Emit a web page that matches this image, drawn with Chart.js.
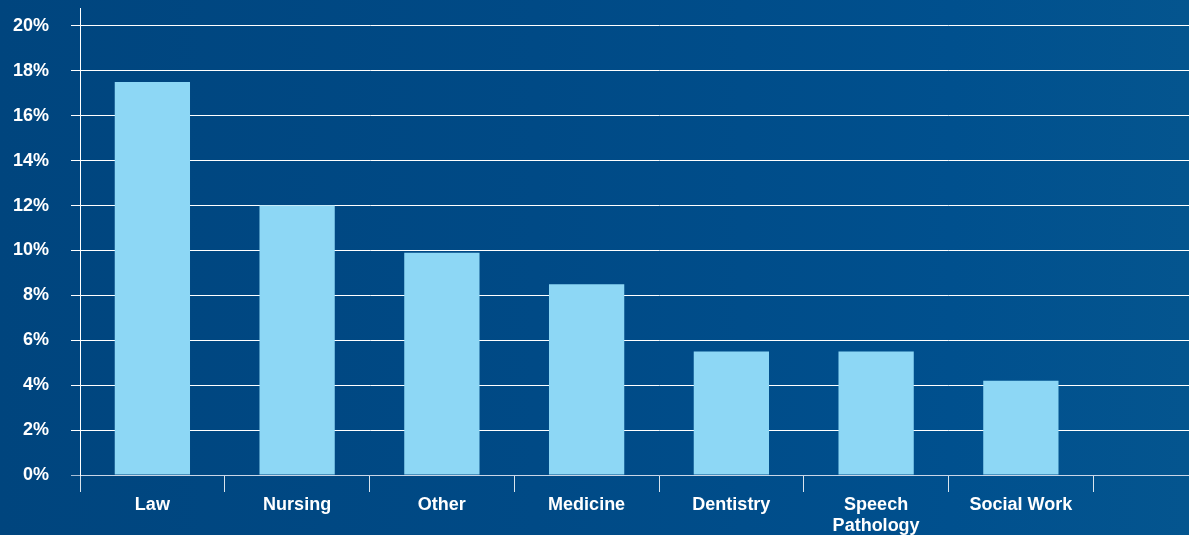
<!DOCTYPE html>
<html>
<head>
<meta charset="utf-8">
<script src="https://cdn.jsdelivr.net/npm/chart.js@4/dist/chart.umd.min.js"></script>
<style>
  html, body { margin: 0; padding: 0; overflow: hidden; width: 1189px; height: 535px; }
  body { background: linear-gradient(90deg, #00457e 0%, #004a86 45%, #00508e 80%, #04558f 100%); }
  canvas { display: block; }
</style>
</head>
<body>
<canvas id="chart" width="1238" height="535"></canvas>
<script>
// Share by field, in percent
const categories = ['Law', 'Nursing', 'Other', 'Medicine', 'Dentistry', ['Speech', 'Pathology'], 'Social Work', ''];
const shares = [17.5, 12, 9.9, 8.5, 5.5, 5.5, 4.2];
const yTicks = [0, 2, 4, 6, 8, 10, 12, 14, 16, 18, 20];

const font = { family: '"Liberation Sans", Arial, sans-serif', size: 18, weight: 'bold' };

new Chart(document.getElementById('chart').getContext('2d'), {
  type: 'bar',
  data: {
    labels: categories,
    datasets: [{
      data: shares,
      backgroundColor: '#8dd7f5',
      barPercentage: 0.52,
      categoryPercentage: 1
    }]
  },
  options: {
    responsive: false,
    animation: false,
    layout: { padding: { top: 8, bottom: 0, left: 0, right: 0 } },
    plugins: { legend: { display: false }, tooltip: { enabled: false } },
    scales: {
      x: {
        offset: true,
        grid: {
          offset: true,
          drawOnChartArea: false,
          tickLength: 17,
          color: 'rgba(255,255,255,0.85)'
        },
        border: { color: 'rgba(210,220,235,0.8)' },
        ticks: { color: '#fff', font: font, padding: 2, maxRotation: 0, autoSkip: false },
        afterFit: s => { s.height = 60; }
      },
      y: {
        min: 0,
        max: 20.8,
        afterBuildTicks: s => { s.ticks = yTicks.map(v => ({ value: v })); },
        grid: {
          tickLength: 9,
          color: c => c.tick && c.tick.value === 0 ? 'rgba(210,220,235,0.8)' : '#fff'
        },
        border: { color: '#fff' },
        ticks: { color: '#fff', font: font, padding: 22, callback: v => v + '%' },
        afterFit: s => { s.width = 80; s.paddingTop = 0; s.paddingBottom = 0; }
      }
    }
  }
});
</script>
</body>
</html>
